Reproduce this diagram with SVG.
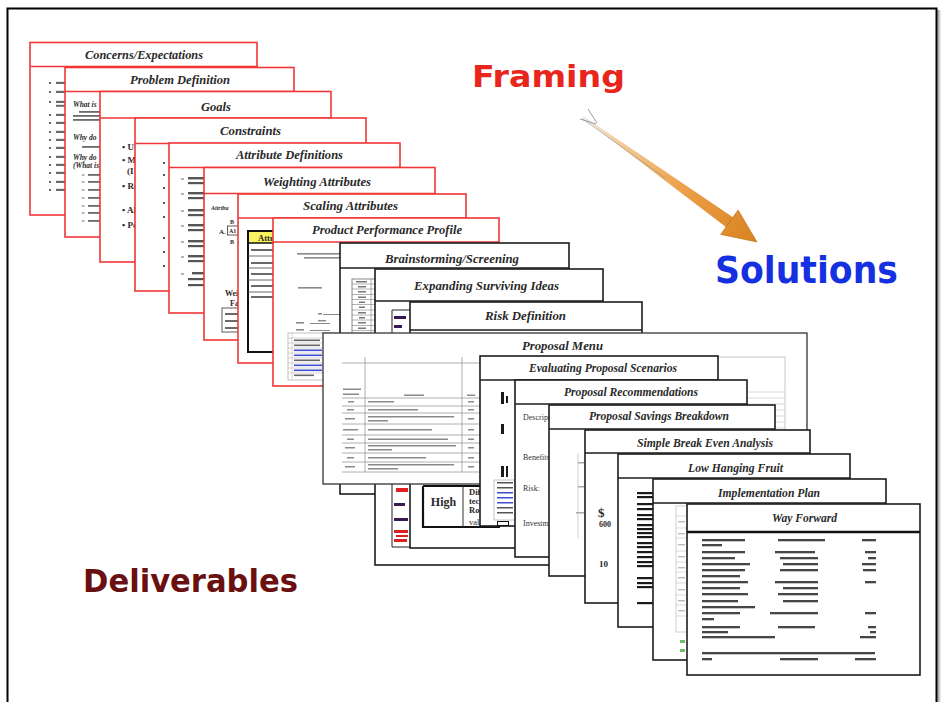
<svg xmlns="http://www.w3.org/2000/svg" width="944" height="702" viewBox="0 0 944 702">
<defs>
<style>
.rs{fill:#fff;stroke:#f03636;stroke-width:1.6}
.rl{stroke:#f03636;stroke-width:1.6}
.bs{fill:#fff;stroke:#1c1c1c;stroke-width:1.6}
.bl{stroke:#1c1c1c;stroke-width:1.6}
.tt{font-family:"Liberation Serif",serif;font-weight:bold;font-style:italic;font-size:13px;fill:#2a2a2a;text-anchor:middle}
.sm{font-family:"Liberation Serif",serif;font-weight:bold;fill:#2a2a2a}
.bar{fill:#6a6a6a}
.dk{fill:#1a1a1a}
.wf{fill:#262626}
.gl{stroke:#9a9a9a;stroke-width:0.8;fill:none}
.big{font-family:"DejaVu Sans",Verdana,sans-serif;font-weight:bold}
</style>
<linearGradient id="arrowGrad" gradientUnits="userSpaceOnUse" x1="583" y1="117" x2="757" y2="242">
<stop offset="0" stop-color="#efe9e2"/>
<stop offset="0.25" stop-color="#f3c892"/>
<stop offset="0.55" stop-color="#eda24c"/>
<stop offset="1" stop-color="#d98220"/>
</linearGradient>
<linearGradient id="shadowGrad" x1="0" y1="0" x2="1" y2="0">
<stop offset="0" stop-color="#777"/>
<stop offset="1" stop-color="#fff" stop-opacity="0"/>
</linearGradient>
</defs>
<rect width="944" height="702" fill="#fff"/>
<rect x="937.5" y="10" width="5" height="700" fill="url(#shadowGrad)"/>
<path d="M7.5 710 V8.5 H936.5 V710" fill="none" stroke="#000" stroke-width="2"/>

<g id="slide-concerns">
<rect class="rs" x="30" y="42.5" width="227" height="172.5"/>
<line class="rl" x1="30" y1="66.5" x2="257" y2="66.5"/>
<text class="tt" x="144" y="59" textLength="118" lengthAdjust="spacingAndGlyphs">Concerns/Expectations</text>
<g class="dk">
<circle cx="50" cy="83" r="0.9"/><circle cx="50" cy="92" r="0.9"/><circle cx="50" cy="102" r="0.9"/><circle cx="50" cy="115" r="0.9"/><circle cx="50" cy="123" r="0.9"/><circle cx="50" cy="132" r="0.9"/><circle cx="50" cy="140" r="0.9"/><circle cx="50" cy="148" r="0.9"/><circle cx="50" cy="157" r="0.9"/><circle cx="50" cy="165" r="0.9"/><circle cx="50" cy="173" r="0.9"/><circle cx="50" cy="182" r="0.9"/><circle cx="50" cy="190" r="0.9"/>
</g>
<g class="bar">
<rect x="56" y="81.8" width="14" height="2.2"/><rect x="56" y="90.8" width="14" height="2.2"/><rect x="56" y="100.8" width="14" height="2.2"/><rect x="56" y="104.8" width="14" height="2"/><rect x="56" y="113.8" width="14" height="2.2"/><rect x="56" y="121.8" width="14" height="2.2"/><rect x="56" y="130.8" width="14" height="2.2"/><rect x="56" y="138.8" width="14" height="2.2"/><rect x="56" y="146.8" width="14" height="2.2"/><rect x="56" y="155.8" width="14" height="2.2"/><rect x="56" y="163.8" width="14" height="2.2"/><rect x="56" y="171.8" width="14" height="2.2"/><rect x="56" y="180.8" width="14" height="2.2"/><rect x="56" y="188.8" width="14" height="2.2"/>
</g>
</g>

<g id="slide-problem">
<rect class="rs" x="65" y="67.5" width="229" height="169.5"/>
<line class="rl" x1="65" y1="91.5" x2="294" y2="91.5"/>
<text class="tt" x="180" y="84" textLength="100" lengthAdjust="spacingAndGlyphs">Problem Definition</text>
<g class="sm" font-style="italic" font-size="7.5">
<text x="73" y="107">What is</text>
<text x="73" y="140">Why do</text>
<text x="73" y="160">Why do</text>
<text x="73" y="168">(What is</text>
</g>
<g class="bar">
<rect x="79" y="111" width="30" height="1.8"/><rect x="73" y="115" width="30" height="1.8"/><rect x="73" y="119" width="30" height="1.8"/><rect x="82" y="146" width="30" height="1.8"/>
<rect x="88" y="174" width="20" height="1.8"/><rect x="88" y="181" width="20" height="1.8"/><rect x="88" y="189" width="20" height="1.8"/><rect x="88" y="197" width="20" height="1.8"/><rect x="88" y="205" width="20" height="1.8"/><rect x="88" y="212" width="20" height="1.8"/><rect x="88" y="220" width="20" height="1.8"/>
<rect x="82" y="174.5" width="2.5" height="1"/><rect x="82" y="181.5" width="2.5" height="1"/><rect x="82" y="189.5" width="2.5" height="1"/><rect x="82" y="197.5" width="2.5" height="1"/><rect x="82" y="205.5" width="2.5" height="1"/><rect x="82" y="212.5" width="2.5" height="1"/><rect x="82" y="220.5" width="2.5" height="1"/>
</g>
</g>

<g id="slide-goals">
<rect class="rs" x="100" y="91.5" width="231" height="170.5"/>
<line class="rl" x1="100" y1="118" x2="331" y2="118"/>
<text class="tt" x="216" y="111" textLength="30" lengthAdjust="spacingAndGlyphs">Goals</text>
<g class="sm" font-size="9">
<text x="122" y="150">• U</text>
<text x="122" y="163">• M</text>
<text x="127" y="174">(I</text>
<text x="122" y="189">• Re</text>
<text x="122" y="213">• Al</text>
<text x="122" y="228">• Pe</text>
</g>
</g>

<g id="slide-constraints">
<rect class="rs" x="135" y="118" width="231" height="173"/>
<line class="rl" x1="135" y1="143.5" x2="366" y2="143.5"/>
<text class="tt" x="250.5" y="135" textLength="61" lengthAdjust="spacingAndGlyphs">Constraints</text>
<g class="dk">
<circle cx="164" cy="163" r="1"/><circle cx="164" cy="175" r="1"/><circle cx="164" cy="188" r="1"/><circle cx="164" cy="203" r="1"/><circle cx="164" cy="217" r="1"/><circle cx="164" cy="238" r="1"/><circle cx="164" cy="252" r="1"/><circle cx="164" cy="266" r="1"/>
</g>
</g>

<g id="slide-attrdef">
<rect class="rs" x="169" y="143" width="231" height="170"/>
<line class="rl" x1="169" y1="167.5" x2="400" y2="167.5"/>
<text class="tt" x="289.5" y="159" textLength="107" lengthAdjust="spacingAndGlyphs">Attribute Definitions</text>
<g class="bar">
<rect x="181" y="178.5" width="3" height="1"/><rect x="181" y="193.5" width="3" height="1"/><rect x="181" y="210.5" width="3" height="1"/><rect x="181" y="225.5" width="3" height="1"/><rect x="181" y="241.5" width="3" height="1"/><rect x="181" y="256.5" width="3" height="1"/><rect x="181" y="273.5" width="3" height="1"/>
</g>
<g fill="#555">
<rect x="188" y="177" width="20" height="2.4"/><rect x="188" y="182" width="20" height="2.2"/>
<rect x="188" y="192" width="20" height="2.4"/><rect x="188" y="197" width="20" height="2.2"/>
<rect x="188" y="209" width="20" height="2.4"/><rect x="188" y="214" width="20" height="2.2"/>
<rect x="188" y="224" width="20" height="2.4"/><rect x="188" y="229" width="20" height="2.2"/>
<rect x="188" y="240" width="20" height="2.4"/><rect x="188" y="245" width="20" height="2.2"/>
<rect x="188" y="255" width="20" height="2.4"/><rect x="188" y="260" width="20" height="2.2"/>
<rect x="192" y="272" width="20" height="2.4"/><rect x="188" y="278" width="20" height="2.2"/><rect x="188" y="284" width="20" height="2.2"/>
</g>
</g>

<g id="slide-weighting">
<rect class="rs" x="204" y="167.5" width="231" height="172.5"/>
<line class="rl" x1="204" y1="193.5" x2="435" y2="193.5"/>
<text class="tt" x="317" y="186" textLength="108" lengthAdjust="spacingAndGlyphs">Weighting Attributes</text>
<text class="sm" x="211" y="210" font-size="6" font-style="italic" font-weight="normal">Attribu</text>
<text class="sm" x="230" y="224" font-size="6">B</text>
<text class="sm" x="219" y="234" font-size="7">A.</text>
<rect x="227.5" y="226" width="12" height="9" fill="none" stroke="#333" stroke-width="0.8"/>
<text class="sm" x="229" y="233" font-size="6">A1</text>
<text class="sm" x="230" y="244" font-size="6">B</text>
<text class="sm" x="225" y="296" font-size="8" font-weight="normal">Weig</text>
<text class="sm" x="230" y="306" font-size="8" font-weight="normal">Fac</text>
<rect x="222" y="308" width="30" height="24" fill="none" stroke="#333" stroke-width="0.8"/>
<g class="bar"><rect x="225" y="313" width="14" height="2"/><rect x="225" y="320" width="14" height="2"/><rect x="225" y="327" width="14" height="2"/></g>
</g>

<g id="slide-scaling">
<rect class="rs" x="238" y="194" width="228" height="169"/>
<line class="rl" x1="238" y1="218" x2="466" y2="218"/>
<text class="tt" x="350.5" y="210" textLength="95" lengthAdjust="spacingAndGlyphs">Scaling Attributes</text>
<rect x="248" y="231" width="40" height="12" fill="#f8f560"/>
<rect x="248" y="231" width="40" height="121" fill="none" stroke="#111" stroke-width="2"/>
<line x1="248" y1="243" x2="288" y2="243" stroke="#111" stroke-width="1.5"/>
<text class="sm" x="258" y="241" font-size="8.5">Attr</text>
<g stroke="#444" stroke-width="0.8"><line x1="248" y1="256" x2="288" y2="256"/><line x1="248" y1="268" x2="288" y2="268"/><line x1="248" y1="280" x2="288" y2="280"/><line x1="248" y1="292" x2="288" y2="292"/></g>
<g class="bar"><rect x="251" y="249" width="22" height="2"/><rect x="251" y="262" width="22" height="2"/><rect x="251" y="273" width="22" height="2"/><rect x="251" y="285" width="22" height="2"/><rect x="251" y="296" width="22" height="2"/></g>
</g>

<g id="slide-ppp">
<rect class="rs" x="273" y="218" width="226" height="168"/>
<line class="rl" x1="273" y1="242" x2="499" y2="242"/>
<text class="tt" x="387" y="234" textLength="150" lengthAdjust="spacingAndGlyphs">Product Performance Profile</text>
<g fill="#8a8a8a">
<rect x="297" y="253" width="45" height="1.6"/><rect x="304" y="257" width="40" height="1.6"/>
<rect x="298" y="287" width="24" height="1.6"/>
<rect x="318" y="313" width="4" height="1.6"/><rect x="323" y="314" width="20" height="1"/>
<rect x="296" y="322" width="8" height="1.6"/><rect x="310" y="323" width="20" height="1"/><rect x="318" y="320" width="8" height="1.4"/>
<rect x="296" y="329" width="8" height="1.6"/><rect x="310" y="330" width="20" height="1"/>
</g>
<rect x="288" y="333" width="50" height="47" fill="none" stroke="#999" stroke-width="0.6"/>
<g stroke="#aaa" stroke-width="0.5"><line x1="288" y1="338" x2="340" y2="338"/><line x1="288" y1="343" x2="340" y2="343"/><line x1="288" y1="348" x2="340" y2="348"/><line x1="288" y1="353" x2="340" y2="353"/><line x1="288" y1="358" x2="340" y2="358"/><line x1="288" y1="363" x2="340" y2="363"/><line x1="288" y1="368" x2="340" y2="368"/><line x1="288" y1="373" x2="340" y2="373"/><line x1="292" y1="333" x2="292" y2="380"/></g>
<g fill="#666"><rect x="294" y="339.5" width="26" height="1.6"/><rect x="294" y="344.5" width="26" height="1.6"/><rect x="294" y="359.5" width="26" height="1.6"/><rect x="294" y="374.5" width="20" height="1.6"/></g>
<g fill="#3c4fd0"><rect x="294" y="349.5" width="28" height="1.6"/><rect x="294" y="354.5" width="28" height="1.6"/><rect x="294" y="364.5" width="28" height="1.6"/><rect x="294" y="369.5" width="28" height="1.6"/></g>
</g>

<g id="slide-brainstorming">
<rect class="bs" x="340" y="243" width="229" height="251"/>
<line class="bl" x1="340" y1="268" x2="569" y2="268"/>
<text class="tt" x="452" y="263" font-size="14" textLength="134" lengthAdjust="spacingAndGlyphs">Brainstorming/Screening</text>
<rect x="352" y="279" width="26" height="56" fill="none" stroke="#555" stroke-width="0.7"/>
<g stroke="#666" stroke-width="0.5"><line x1="352" y1="284" x2="378" y2="284"/><line x1="352" y1="289" x2="378" y2="289"/><line x1="352" y1="294.5" x2="378" y2="294.5"/><line x1="352" y1="299.5" x2="378" y2="299.5"/><line x1="352" y1="304.5" x2="378" y2="304.5"/><line x1="352" y1="310" x2="378" y2="310"/><line x1="352" y1="315" x2="378" y2="315"/><line x1="352" y1="320" x2="378" y2="320"/><line x1="352" y1="325.5" x2="378" y2="325.5"/><line x1="352" y1="330.5" x2="378" y2="330.5"/><line x1="371" y1="279" x2="371" y2="335"/></g>
<g fill="#777"><rect x="356" y="281" width="11" height="1.5"/><rect x="358" y="286" width="8" height="1.5"/><rect x="358" y="291" width="8" height="1.5"/><rect x="358" y="296.5" width="8" height="1.5"/><rect x="359" y="301.5" width="6" height="1.5"/><rect x="359" y="306.5" width="6" height="1.5"/><rect x="358" y="312" width="8" height="1.5"/><rect x="359" y="317" width="6" height="1.5"/><rect x="358" y="322" width="8" height="1.5"/><rect x="358" y="327.5" width="8" height="1.5"/></g>
</g>

<g id="slide-expanding">
<rect class="bs" x="375" y="269" width="228" height="296"/>
<line class="bl" x1="375" y1="301" x2="603" y2="301"/>
<text class="tt" x="486.5" y="290" font-size="15" textLength="145" lengthAdjust="spacingAndGlyphs">Expanding Surviving Ideas</text>
<path d="M392 310 V547 H420" fill="none" stroke="#222" stroke-width="1"/>
<line x1="392" y1="310" x2="420" y2="310" stroke="#222" stroke-width="1"/>
<g fill="#3a1850"><rect x="394" y="316" width="12" height="3"/><rect x="394" y="325" width="8" height="3"/><rect x="394" y="503" width="11" height="3"/><rect x="394" y="518" width="14" height="3"/></g>
<g fill="#e02020"><rect x="396" y="488" width="12" height="4"/><rect x="394" y="530" width="14" height="3"/><rect x="396" y="535" width="12" height="2"/><rect x="394" y="539" width="13" height="3"/></g>
</g>

<g id="slide-risk">
<rect class="bs" x="410" y="302" width="232" height="246"/>
<line class="bl" x1="410" y1="330" x2="642" y2="330"/>
<text class="tt" x="525.5" y="320" font-size="15" textLength="81" lengthAdjust="spacingAndGlyphs">Risk Definition</text>
<path d="M423 486 V527 H500 M423 486 H500" fill="none" stroke="#111" stroke-width="2.2"/>
<line x1="463" y1="486" x2="463" y2="527" stroke="#333" stroke-width="1"/>
<text class="sm" x="443.5" y="506" font-size="12" text-anchor="middle">High</text>
<g class="sm" font-size="8.5">
<text x="469" y="495">Dif</text>
<text x="469" y="504">tec</text>
<text x="469" y="513">Ro</text>
<text x="469" y="525" font-weight="normal">val</text>
</g>
</g>

<g id="slide-proposal-menu">
<rect x="323" y="333" width="484" height="151" fill="#fff" stroke="#333" stroke-width="1.3"/>
<text class="tt" x="562.5" y="350" font-size="15" textLength="81" lengthAdjust="spacingAndGlyphs">Proposal Menu</text>
<g class="gl">
<line x1="342" y1="363" x2="500" y2="363"/>
<line x1="365" y1="357" x2="365" y2="472"/>
<line x1="462" y1="357" x2="462" y2="472"/>
<line x1="342" y1="398" x2="500" y2="398"/><line x1="342" y1="406" x2="500" y2="406"/><line x1="342" y1="413" x2="500" y2="413"/><line x1="342" y1="424" x2="500" y2="424"/><line x1="342" y1="435" x2="500" y2="435"/><line x1="342" y1="443" x2="500" y2="443"/><line x1="342" y1="453" x2="500" y2="453"/><line x1="342" y1="462" x2="500" y2="462"/><line x1="342" y1="472" x2="500" y2="472"/>
</g>
<g fill="#8a8a8a">
<rect x="343" y="388.5" width="18" height="1.5"/><rect x="343" y="393.5" width="16" height="1.5"/><rect x="404" y="394.5" width="20" height="1.5"/><rect x="467" y="394.5" width="8" height="1.5"/>
<rect x="348" y="401" width="6" height="1.5"/><rect x="368" y="401" width="26" height="1.5"/><rect x="468" y="401" width="6" height="1.5"/>
<rect x="347" y="409" width="7" height="1.5"/><rect x="368" y="409" width="50" height="1.5"/><rect x="468" y="409" width="6" height="1.5"/>
<rect x="345" y="418" width="10" height="1.5"/><rect x="368" y="416" width="86" height="1.5"/><rect x="368" y="420" width="20" height="1.5"/><rect x="468" y="418" width="6" height="1.5"/>
<rect x="343" y="429" width="15" height="1.5"/><rect x="368" y="429" width="64" height="1.5"/><rect x="468" y="429" width="6" height="1.5"/>
<rect x="347" y="438.5" width="7" height="1.5"/><rect x="368" y="438.5" width="80" height="1.5"/><rect x="468" y="438.5" width="6" height="1.5"/>
<rect x="345" y="447" width="10" height="1.5"/><rect x="368" y="445" width="88" height="1.5"/><rect x="368" y="449" width="24" height="1.5"/><rect x="468" y="447" width="6" height="1.5"/>
<rect x="347" y="457" width="7" height="1.5"/><rect x="368" y="457" width="58" height="1.5"/><rect x="468" y="457" width="6" height="1.5"/>
<rect x="345" y="466" width="10" height="1.5"/><rect x="368" y="464" width="86" height="1.5"/><rect x="368" y="468" width="30" height="1.5"/><rect x="468" y="466" width="6" height="1.5"/>
</g>
<rect x="718" y="357" width="67" height="113" fill="none" stroke="#b0b0b0" stroke-width="0.7"/>
<g stroke="#c0c0c0" stroke-width="0.6"><line x1="718" y1="392" x2="785" y2="392"/><line x1="718" y1="398" x2="785" y2="398"/><line x1="718" y1="404" x2="785" y2="404"/><line x1="718" y1="410" x2="785" y2="410"/><line x1="718" y1="416" x2="785" y2="416"/><line x1="718" y1="422" x2="785" y2="422"/><line x1="718" y1="428" x2="785" y2="428"/></g>
</g>

<g id="slide-evaluating">
<rect class="bs" x="480" y="356" width="238" height="170"/>
<line class="bl" x1="480" y1="380" x2="718" y2="380"/>
<text class="tt" x="603" y="372" textLength="148" lengthAdjust="spacingAndGlyphs">Evaluating Proposal Scenarios</text>
<g class="dk"><rect x="501" y="392" width="3" height="12"/><rect x="506" y="396" width="2" height="7"/><rect x="501" y="424" width="3" height="10"/><rect x="501" y="466" width="3" height="11"/><rect x="506" y="466" width="2" height="11"/></g>
<rect x="494" y="480" width="30" height="40" fill="none" stroke="#888" stroke-width="0.5"/>
<g fill="#555"><rect x="497" y="482" width="16" height="1.5"/><rect x="497" y="487" width="16" height="1.5"/><rect x="497" y="507" width="16" height="1.5"/><rect x="497" y="512" width="16" height="1.5"/></g>
<g fill="#3c4fd0"><rect x="497" y="492" width="16" height="1.5"/><rect x="497" y="497" width="16" height="1.5"/><rect x="497" y="502" width="16" height="1.5"/></g>
<rect x="497.5" y="521.5" width="11" height="4" fill="none" stroke="#111" stroke-width="1"/>
</g>

<g id="slide-recommendations">
<rect class="bs" x="515" y="380" width="232" height="177"/>
<line class="bl" x1="515" y1="404" x2="747" y2="404"/>
<text class="tt" x="631" y="396" textLength="134" lengthAdjust="spacingAndGlyphs">Proposal Recommendations</text>
<g font-family="Liberation Serif,serif" font-size="8" fill="#333">
<text x="523" y="420">Descript</text>
<text x="523" y="460">Benefits:</text>
<text x="523" y="491">Risk:</text>
<text x="523" y="526">Investme</text>
</g>
</g>

<g id="slide-savings">
<rect class="bs" x="549" y="405" width="226" height="171"/>
<line class="bl" x1="549" y1="429" x2="775" y2="429"/>
<text class="tt" x="659" y="420" textLength="140" lengthAdjust="spacingAndGlyphs">Proposal Savings Breakdown</text>
<line x1="578" y1="453" x2="578" y2="538" stroke="#bbb" stroke-width="0.7"/>
<g fill="#aaa"><rect x="578" y="462" width="6" height="1.5"/><rect x="578" y="486" width="6" height="1.5"/><rect x="576" y="512" width="8" height="1.5"/></g>
</g>

<g id="slide-breakeven">
<rect class="bs" x="585" y="430" width="225" height="173"/>
<line class="bl" x1="585" y1="453" x2="810" y2="453"/>
<text class="tt" x="705" y="447" textLength="136" lengthAdjust="spacingAndGlyphs">Simple Break Even Analysis</text>
<text class="sm" x="598" y="517" font-size="13">$</text>
<text class="sm" x="599" y="527" font-size="8">600</text>
<text class="sm" x="599" y="567" font-size="9">10</text>
</g>

<g id="slide-lowhanging">
<rect class="bs" x="618" y="454" width="232" height="173"/>
<line class="bl" x1="618" y1="478" x2="850" y2="478"/>
<text class="tt" x="735.5" y="472" textLength="95" lengthAdjust="spacingAndGlyphs">Low Hanging Fruit</text>
<g class="dk">
<rect x="637" y="492" width="20" height="2.2"/><rect x="637" y="496" width="20" height="2.2"/><rect x="637" y="503" width="20" height="2.2"/><rect x="637" y="508" width="20" height="2.2"/><rect x="637" y="514" width="20" height="2.2"/><rect x="637" y="518" width="20" height="2.2"/><rect x="637" y="524" width="20" height="2.2"/><rect x="637" y="528" width="20" height="2.2"/><rect x="637" y="532" width="20" height="2.2"/><rect x="637" y="536" width="20" height="2.2"/><rect x="637" y="542" width="20" height="2.2"/><rect x="637" y="546" width="20" height="2.2"/><rect x="637" y="551" width="20" height="2.2"/><rect x="637" y="556" width="20" height="2.2"/><rect x="637" y="561" width="20" height="2.2"/><rect x="637" y="565" width="20" height="2.2"/><rect x="637" y="577" width="20" height="2.2"/><rect x="637" y="582" width="20" height="2.2"/><rect x="637" y="586" width="20" height="2.2"/><rect x="637" y="602" width="20" height="2.2"/>
</g>
</g>

<g id="slide-implementation">
<rect class="bs" x="653" y="479" width="233" height="181"/>
<line class="bl" x1="653" y1="503" x2="886" y2="503"/>
<text class="tt" x="769" y="497" textLength="102" lengthAdjust="spacingAndGlyphs">Implementation Plan</text>
<rect x="676" y="506" width="40" height="126" fill="none" stroke="#bbb" stroke-width="0.7"/>
<g stroke="#c4c4c4" stroke-width="0.6"><line x1="676" y1="516" x2="716" y2="516"/><line x1="676" y1="528" x2="716" y2="528"/><line x1="676" y1="538" x2="716" y2="538"/><line x1="676" y1="551" x2="716" y2="551"/><line x1="676" y1="562" x2="716" y2="562"/><line x1="676" y1="572" x2="716" y2="572"/><line x1="676" y1="583" x2="716" y2="583"/><line x1="676" y1="595" x2="716" y2="595"/><line x1="676" y1="605" x2="716" y2="605"/><line x1="676" y1="616" x2="716" y2="616"/></g>
<g fill="#bbb"><rect x="678" y="521" width="7" height="1.4"/><rect x="678" y="533" width="7" height="1.4"/><rect x="678" y="544" width="7" height="1.4"/><rect x="678" y="556" width="7" height="1.4"/><rect x="678" y="567" width="7" height="1.4"/><rect x="678" y="577" width="7" height="1.4"/><rect x="678" y="589" width="7" height="1.4"/><rect x="678" y="600" width="7" height="1.4"/><rect x="678" y="610" width="7" height="1.4"/></g>
<g fill="#6cbf6c"><rect x="680" y="640" width="5" height="3"/><rect x="680" y="649" width="5" height="3"/></g>
</g>

<g id="slide-wayforward">
<rect class="bs" x="687" y="504" width="233" height="171"/>
<line x1="687" y1="532" x2="920" y2="532" stroke="#111" stroke-width="2.4"/>
<text class="tt" x="804.5" y="522" font-size="14" textLength="65" lengthAdjust="spacingAndGlyphs">Way Forward</text>
<g class="wf" opacity="0.85">
<rect x="702" y="539" width="43" height="2.3"/><rect x="778" y="539" width="47" height="2.3"/><rect x="862" y="539" width="14" height="2.3"/>
<rect x="702" y="544" width="20" height="2.3"/>
<rect x="702" y="551" width="43" height="2.3"/><rect x="775" y="551" width="40" height="2.3"/><rect x="865" y="551" width="11" height="2.3"/>
<rect x="702" y="557" width="33" height="2.3"/><rect x="780" y="557" width="38" height="2.3"/><rect x="868" y="557" width="8" height="2.3"/>
<rect x="702" y="563" width="48" height="2.3"/><rect x="783" y="563" width="35" height="2.3"/><rect x="862" y="563" width="14" height="2.3"/>
<rect x="702" y="569" width="43" height="2.3"/><rect x="780" y="569" width="38" height="2.3"/><rect x="863" y="569" width="13" height="2.3"/>
<rect x="702" y="575" width="38" height="2.3"/>
<rect x="702" y="581" width="46" height="2.3"/><rect x="775" y="581" width="43" height="2.3"/><rect x="865" y="581" width="11" height="2.3"/>
<rect x="702" y="587" width="38" height="2.3"/><rect x="783" y="587" width="35" height="2.3"/>
<rect x="702" y="593" width="46" height="2.3"/><rect x="778" y="593" width="40" height="2.3"/>
<rect x="702" y="600" width="36" height="2.3"/><rect x="783" y="600" width="35" height="2.3"/>
<rect x="702" y="606" width="53" height="2.3"/>
<rect x="702" y="612" width="38" height="2.3"/><rect x="770" y="612" width="48" height="2.3"/><rect x="865" y="612" width="11" height="2.3"/>
<rect x="702" y="618" width="12" height="2.3"/>
<rect x="702" y="626" width="38" height="2.3"/><rect x="778" y="626" width="37" height="2.3"/><rect x="868" y="626" width="8" height="2.3"/>
<rect x="702" y="631" width="26" height="2.3"/><rect x="870" y="631" width="6" height="2.3"/>
<rect x="702" y="636" width="73" height="2.3"/><rect x="860" y="636" width="16" height="2.3"/>
<rect x="702" y="652" width="173" height="2.3"/>
<rect x="702" y="658" width="10" height="2.3"/><rect x="780" y="658" width="38" height="2.3"/><rect x="855" y="658" width="21" height="2.3"/>
</g>
</g>

<g id="connectors">
<polygon points="583.6,116.2 732.9,217.3 738.1,210 757,242 720.7,234.4 725.9,227.1 582.4,117.8" fill="url(#arrowGrad)"/>
<path d="M738.1,210 L757,242 L720.7,234.4 Z" fill="none" stroke="#c47216" stroke-width="0.9" opacity="0.75"/>
<line x1="582" y1="118.5" x2="665" y2="178" stroke="#8a8a8a" stroke-width="1" opacity="0.55"/>
<path d="M580 119 L596 124 M588 109 L597 123" fill="none" stroke="#9a9a9a" stroke-width="1"/>
</g>

<g id="labels">
<text class="big" x="472" y="87" font-size="30" fill="#e8261c" textLength="153" lengthAdjust="spacingAndGlyphs">Framing</text>
<text class="big" x="715" y="283" font-size="38" fill="#1530e0" textLength="183" lengthAdjust="spacingAndGlyphs">Solutions</text>
<text class="big" x="83" y="592" font-size="32" fill="#6a1010" textLength="215" lengthAdjust="spacingAndGlyphs">Deliverables</text>
</g>
</svg>
